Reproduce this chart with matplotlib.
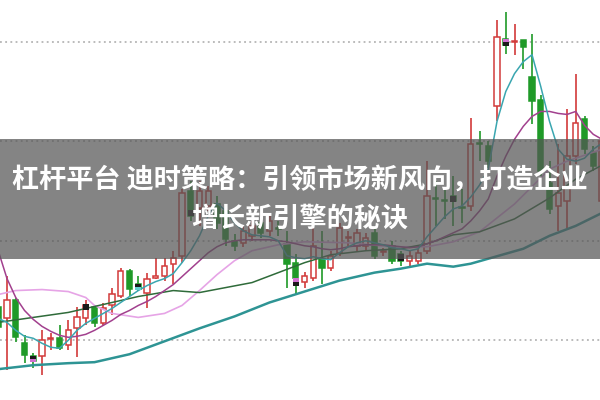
import matplotlib
matplotlib.use('Agg')
import matplotlib.pyplot as plt
import numpy as np
from matplotlib.patches import Rectangle

plt.rcParams['font.family'] = ['Noto Sans CJK SC', 'DejaVu Sans']

# daily candles (price)
opens = [10.33, 10.22, 10.40, 9.97, 9.84, 9.84, 10.01, 10.02, 9.95, 10.12,
         10.22, 10.33, 10.17, 10.35, 10.45, 10.70, 10.57, 10.48, 10.63, 10.65,
         10.77, 10.85, 11.50, 11.33, 11.35, 11.37, 11.30, 11.00, 10.98, 11.05,
         11.18, 11.10, 11.13, 10.97, 10.78, 10.59, 10.63, 10.82, 10.73, 10.88,
         11.03, 10.95, 10.95, 11.08, 10.89, 10.95, 10.87, 10.80, 10.80, 10.90,
         11.43, 11.41, 11.45, 11.34, 11.35, 11.98, 11.95, 12.35, 13.03, 13.00,
         13.02, 12.65, 12.42, 11.58, 11.35, 11.40, 11.85, 12.22, 11.88, 11.40]
highs = [10.40, 10.65, 10.43, 10.05, 9.87, 10.10, 10.07, 10.15, 10.20, 10.33,
         10.40, 10.35, 10.37, 10.53, 10.73, 10.72, 10.65, 10.68, 10.83, 10.83,
         10.90, 11.52, 11.60, 11.60, 11.55, 11.45, 11.35, 11.07, 11.15, 11.20,
         11.22, 11.25, 11.20, 11.10, 10.87, 10.69, 11.15, 11.10, 10.90, 11.18,
         11.10, 11.12, 11.08, 11.12, 10.93, 11.00, 10.90, 10.90, 10.92, 11.80,
         11.60, 11.52, 11.65, 11.52, 12.23, 12.10, 12.00, 13.22, 13.30, 13.18,
         13.02, 13.08, 12.47, 11.80, 11.97, 12.32, 12.68, 12.25, 11.95, 12.58]
lows = [10.05, 9.70, 9.98, 9.77, 9.72, 9.65, 9.90, 9.90, 9.90, 9.83,
        10.15, 10.13, 10.14, 10.25, 10.43, 10.45, 10.50, 10.32, 10.62, 10.60,
        10.57, 10.78, 11.20, 11.15, 11.30, 11.12, 10.95, 10.90, 10.94, 11.00,
        11.03, 11.05, 11.05, 10.53, 10.47, 10.53, 10.60, 10.57, 10.70, 10.85,
        10.95, 10.90, 10.90, 10.82, 10.85, 10.77, 10.75, 10.75, 10.77, 10.87,
        11.15, 11.22, 11.15, 11.18, 11.30, 11.80, 11.73, 12.20, 12.88, 12.87,
        12.73, 12.17, 11.65, 11.27, 11.10, 11.13, 11.77, 11.87, 11.70, 11.37]
closes = [10.13, 10.40, 10.03, 9.85, 9.79, 10.00, 10.02, 9.92, 10.10, 10.23,
          10.35, 10.17, 10.32, 10.47, 10.70, 10.52, 10.52, 10.62, 10.64, 10.75,
          10.83, 11.48, 11.25, 11.50, 11.50, 11.18, 11.02, 10.95, 11.10, 11.15,
          11.08, 11.20, 11.12, 10.77, 10.63, 10.65, 10.95, 10.73, 10.85, 11.13,
          11.04, 11.08, 11.03, 10.85, 10.90, 10.80, 10.80, 10.85, 10.88, 11.45,
          11.42, 11.40, 11.40, 11.33, 11.97, 11.97, 11.80, 13.05, 12.97, 13.01,
          12.95, 12.40, 11.70, 11.32, 11.48, 11.85, 12.18, 11.92, 11.75, 12.00]

# signal boxes on some candles: index, top, bottom, upper colour, lower colour
mark_idx = [4, 10, 16, 22, 34, 46, 52, 58]
mark_top = [9.84, 10.36, 10.57, 11.31, 10.63, 10.87, 11.45, 13.03]
mark_bot = [9.78, 10.30, 10.51, 11.25, 10.55, 10.80, 11.39, 12.96]
mark_col1 = ['#1a1a1a', '#1a1a1a', '#1a1a1a', '#1a1a1a', '#d070d0', '#1a1a1a', '#1a1a1a', '#d070d0']
mark_col2 = ['#d070d0', '#1a1a1a', '#60d0d0', '#1a1a1a', '#1a1a1a', '#1a1a1a', '#1a1a1a', '#1a1a1a']

# moving averages
ma5 = [10.22, 10.18, 10.10, 10.04, 10.02, 9.97, 9.93, 9.92, 10.00, 10.10,
       10.17, 10.22, 10.27, 10.32, 10.38, 10.44, 10.50, 10.55, 10.59, 10.62,
       10.67, 10.78, 10.90, 11.05, 11.25, 11.38, 11.30, 11.18, 11.10, 11.06,
       11.05, 11.04, 11.00, 10.85, 10.83, 10.82, 10.84, 10.82, 10.81, 10.88,
       10.94, 10.98, 11.00, 10.98, 10.96, 10.93, 10.92, 10.90, 10.92, 11.04,
       11.14, 11.24, 11.32, 11.35, 11.44, 11.56, 11.72, 12.20, 12.50, 12.68,
       12.80, 12.87, 12.55, 12.20, 11.92, 11.82, 11.80, 11.83, 11.92, 11.98]
ma10 = [10.90, 10.62, 10.43, 10.30, 10.21, 10.14, 10.09, 10.05, 10.03, 10.04,
        10.06, 10.10, 10.15, 10.20, 10.26, 10.30, 10.35, 10.39, 10.44, 10.50,
        10.56, 10.64, 10.72, 10.80, 10.88, 10.94, 10.98, 11.00, 11.01, 11.01,
        11.01, 11.01, 11.00, 10.99, 10.97, 10.95, 10.94, 10.92, 10.91, 10.92,
        10.94, 10.95, 10.96, 10.96, 10.96, 10.95, 10.94, 10.93, 10.94, 10.97,
        11.00, 11.04, 11.08, 11.12, 11.20, 11.30, 11.42, 11.65, 11.85, 12.02,
        12.15, 12.25, 12.30, 12.30, 12.28, 12.27, 12.30, 12.16, 12.07, 12.02]
ma20_idx = [0, 4, 8, 12, 16, 20, 23, 26, 29, 32, 35, 38, 42, 46, 49, 52, 55, 59, 63, 66, 69]
ma20 = [10.18, 10.23, 10.28, 10.36, 10.44, 10.50, 10.48, 10.53, 10.58, 10.68, 10.78,
        10.86, 10.90, 10.92, 10.97, 11.06, 11.09, 11.22, 11.43, 11.62, 11.76]
ma30_idx = [0, 2, 5, 8, 10, 11, 13, 16, 19, 21, 23, 25, 27, 29, 32, 35, 40, 45, 49,
            52, 55, 59, 63, 65, 69]
ma30 = [10.46, 10.50, 10.51, 10.49, 10.43, 10.35, 10.27, 10.23, 10.27, 10.35, 10.50,
        10.66, 10.80, 10.90, 10.96, 10.99, 10.98, 10.94, 10.94, 10.99, 11.09, 11.37,
        11.72, 11.80, 11.92]
ma60_idx = [0, 4, 8, 11, 15, 19, 23, 27, 31, 35, 39, 43, 46, 49, 51, 52, 54, 56, 58,
            60, 63, 66, 69]
ma60 = [9.71, 9.75, 9.77, 9.78, 9.86, 9.99, 10.12, 10.24, 10.38, 10.49, 10.60, 10.68,
        10.72, 10.77, 10.75, 10.74, 10.77, 10.82, 10.87, 10.92, 11.05, 11.15, 11.28]

grid_levels = [10, 11, 12, 13]

RED = '#d23a3a'
GREEN = '#1f9a28'

fig = plt.figure(figsize=(6, 4), dpi=100)
ax = fig.add_axes([0, 0, 1, 1])
ax.set_xlim(0.2, 68.77)
ax.set_ylim(9.40, 13.42)
ax.axis('off')

for lvl in grid_levels:
    ax.axhline(lvl, color='#a8a8a8', lw=1.1, ls=(0, (1.2, 2.2)), zorder=1)

o = np.array(opens)
h = np.array(highs)
l = np.array(lows)
c = np.array(closes)
idx = np.arange(len(o))
up = c >= o

ax.vlines(idx[up], l[up], h[up], colors=RED, lw=1.2, zorder=3)
ax.vlines(idx[~up], l[~up], h[~up], colors=GREEN, lw=1.2, zorder=3)

body = np.maximum(np.abs(c - o), 0.012)
bottom = np.minimum(o, c)
ax.bar(idx[up], body[up], bottom=bottom[up], width=0.62, facecolor='white',
       edgecolor=RED, lw=1.1, zorder=4)
ax.bar(idx[~up], body[~up], bottom=bottom[~up], width=0.62, facecolor=GREEN,
       edgecolor=GREEN, lw=1.1, zorder=4)

for i, t, b, c1, c2 in zip(mark_idx, mark_top, mark_bot, mark_col1, mark_col2):
    mid = (t + b) / 2
    ax.bar(i, t - mid, bottom=mid, width=0.7, color=c1, zorder=6)
    ax.bar(i, mid - b, bottom=b, width=0.7, color=c2, zorder=6)

ax.plot(ma60_idx, ma60, color='#2e9494', lw=1.8, zorder=5)
ax.plot(ma30_idx, ma30, color='#e6a4e6', lw=1.2, zorder=5)
ax.plot(ma20_idx, ma20, color='#2f6b3a', lw=1.1, zorder=5)
ax.plot(idx, ma10, color='#a2408e', lw=1.1, zorder=5)
ax.plot(idx, ma5, color='#3aa6b0', lw=1.1, zorder=5)

# title banner
fig.add_artist(Rectangle((0, 0.3525), 1, 0.30, transform=fig.transFigure,
                         facecolor='#555555', alpha=0.72, edgecolor='none', zorder=10))
fig.text(0.5, 0.55, '杠杆平台 迪时策略：引领市场新风向，打造企业', ha='center', va='center',
         color='white', fontsize=19.5, fontweight='bold', zorder=11)
fig.text(0.5, 0.4525, '增长新引擎的秘诀', ha='center', va='center',
         color='white', fontsize=19.5, fontweight='bold', zorder=11)

fig.savefig('out.png', dpi=100)
